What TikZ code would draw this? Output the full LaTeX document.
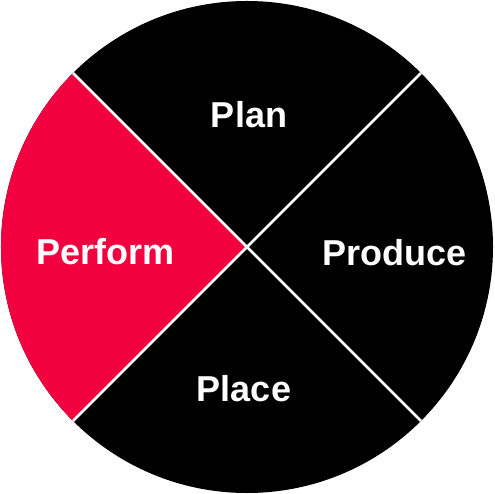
\documentclass[tikz,border=0pt]{standalone}
\usepackage{fontspec}
\setmainfont{Liberation Sans}
\usepackage{xcolor}
\usepackage{tikz}
\usetikzlibrary{positioning,calc}
\definecolor{perform}{HTML}{F20040}

\begin{document}
\begin{tikzpicture}[x=1pt, y=1pt,
    quarter/.style={fill=black},
    split/.style={draw=white, line width=2.5pt},
    lbl/.style={text=white, anchor=base, inner sep=0pt,
                font=\fontsize{36}{40}\selectfont\bfseries},
]
\useasboundingbox (-247,-247) rectangle (247,247);

\fill[quarter] (0,0) circle[radius=246];
\fill[perform] (0,0) -- (135:246) arc[start angle=135, end angle=225, radius=246] -- cycle;

\coordinate (ne) at (45:246);
\coordinate (nw) at (135:246);
\coordinate (sw) at (225:246);
\coordinate (se) at (315:246);
\draw[split] (nw) -- (se);
\draw[split] (ne) -- (sw);

\node[lbl] (plan) at (2,119) {Plan};
\node[lbl] (perform) at (-141.5,-18) {Perform};
\node[lbl] (produce) at (147.5,-18.5) {Produce};
\node[lbl] (place) at (-3,-154.5) {Place};

\end{tikzpicture}
\end{document}
